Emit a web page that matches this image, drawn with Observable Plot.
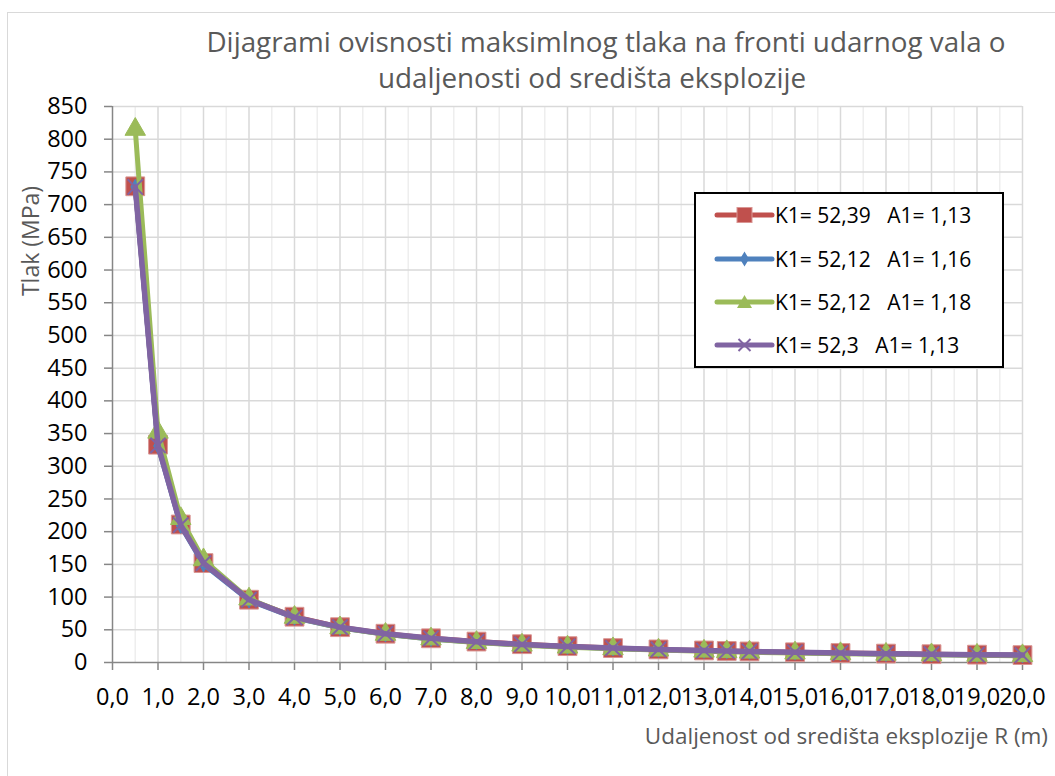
<!DOCTYPE html>
<html>
<head>
<meta charset="utf-8">
<script src="https://cdn.jsdelivr.net/npm/d3@7"></script>
<script src="https://cdn.jsdelivr.net/npm/@observablehq/plot@0.6"></script>
<style>
  html, body { margin: 0; padding: 0; background: #fff; overflow: hidden; }
  #wrap { position: relative; width: 1055px; height: 776px; overflow: hidden; font-family: "Open Sans", sans-serif; }
  #frame { position: absolute; left: 7px; top: 12px; width: 1200px; height: 900px; border: 1.5px solid #d9d9d9; box-sizing: border-box; }
  #chart { position: absolute; left: 0; top: 0; }
  .title { position: absolute; color: #595959; font-size: 27.8px; white-space: nowrap; text-align: center; transform: translateX(-50%); }
  #ylab { position: absolute; color: #595959; font-size: 23px; white-space: nowrap; left: 30px; top: 241px; transform: translate(-50%, -50%) rotate(-90deg); }
  #xlab { position: absolute; color: #595959; font-size: 22.5px; white-space: nowrap; right: 7px; top: 735px; transform: translateY(-50%); }
  #legend { position: absolute; left: 694px; top: 192px; width: 310px; height: 176px; border: 2px solid #000; background: #fff; box-sizing: border-box; }
  .lrow { position: absolute; left: 0; height: 30px; display: flex; align-items: center; }
  .lrow span { font-size: 21px; color: #000; white-space: pre; margin-left: 0px; }
</style>
</head>
<body>
<div id="wrap">
  <div id="frame"></div>
  <div id="chart"></div>
  <div class="title" style="left:606px; top:22px;">Dijagrami ovisnosti maksimlnog tlaka na fronti udarnog vala o</div>
  <div class="title" style="left:592px; top:58px;">udaljenosti od središta eksplozije</div>
  <div id="ylab">Tlak (MPa)</div>
  <div id="xlab">Udaljenost od središta eksplozije R (m)</div>
  <div id="legend"></div>
</div>
<script>
// Distances R (m)
const distances = [0.5, 1, 1.5, 2, 3, 4, 5, 6, 7, 8, 9, 10, 11, 12, 13, 13.5, 14, 15, 16, 17, 18, 19, 20];
// Series values (MPa)
const seriesRed    = [728, 333, 211, 152, 96, 70, 54, 44, 37, 32, 28, 25, 22, 20, 18.4, 17.6, 16.9, 15.6, 14.5, 13.6, 12.7, 12.0, 11.3];
const seriesBlue   = [727, 331, 209, 150, 95, 68.5, 53, 43, 36, 31, 27, 24, 21.5, 19.5, 17.8, 17.1, 16.4, 15.1, 14.0, 13.1, 12.3, 11.6, 10.9];
const seriesGreen  = [815, 352, 220, 157, 97, 69, 53, 43, 36, 30.5, 26.5, 23.5, 21, 19, 17.3, 16.5, 15.8, 14.5, 13.5, 12.6, 11.8, 11.1, 10.4];
const seriesPurple = [727, 332, 210, 152, 96, 69, 54, 44, 37, 31.7, 27.7, 24.6, 22.1, 20.0, 18.3, 17.6, 16.9, 15.6, 14.5, 13.5, 12.7, 12.0, 11.3];
const seriesNames = ["K1= 52,39   A1= 1,13", "K1= 52,12   A1= 1,16", "K1= 52,12   A1= 1,18", "K1= 52,3   A1= 1,13"];
const seriesColors = ["#C0504D", "#4F81BD", "#9BBB59", "#8064A2"];
const seriesSymbols = ["square", "diamond", "triangle", "times"];
const yTicks = d3.range(0, 851, 50);
const xTicks = d3.range(0, 21, 1);

const allSeries = [seriesRed, seriesBlue, seriesGreen, seriesPurple];
const tables = allSeries.map((vals, i) => distances.map((r, j) => ({R: r, p: vals[j], s: seriesNames[i]})));

const markerOpts = [
  {r: 10.6, fill: seriesColors[0], stroke: "#D99694", strokeWidth: 1},
  {r: 4.6, fill: seriesColors[1], stroke: seriesColors[1], strokeWidth: 1},
  {r: 7.6, fill: seriesColors[2], stroke: seriesColors[2], strokeWidth: 1},
  {r: 7, fill: "none", stroke: seriesColors[3], strokeWidth: 2}
];

const seriesMarks = [];
tables.forEach((t, i) => {
  seriesMarks.push(Plot.line(t, {x: "R", y: "p", stroke: seriesColors[i], strokeWidth: i === 3 ? 5.5 : 5, strokeLinejoin: "round", strokeLinecap: "round"}));
  seriesMarks.push(Plot.dot(t, {x: "R", y: "p", symbol: () => seriesSymbols[i], ...markerOpts[i]}));
});

const fmt = d => d.toFixed(1).replace(".", ",");

const chart = Plot.plot({
  width: 1055,
  height: 776,
  marginLeft: 112,
  marginRight: 33,
  marginTop: 106,
  marginBottom: 114,
  style: {fontFamily: "Open Sans, sans-serif", background: "transparent", overflow: "visible"},
  x: {domain: [0, 20]},
  y: {domain: [0, 850]},
  marks: [
    Plot.gridX(d3.range(0.5, 20, 1), {stroke: "#eeeeee", strokeOpacity: 1, strokeWidth: 1.5}),
    Plot.gridX(d3.range(1, 21, 1), {stroke: "#d9d9d9", strokeOpacity: 1, strokeWidth: 1.5}),
    Plot.gridY(d3.range(50, 851, 50), {stroke: "#d9d9d9", strokeOpacity: 1, strokeWidth: 1.5}),
    Plot.axisY(yTicks, {tickSize: 8, tickPadding: 17, fontSize: 23.5, fill: "#000", stroke: "#868686", strokeWidth: 1.5, label: null}),
    Plot.axisX(xTicks, {tickSize: 8, tickPadding: 18, fontSize: 23.5, fill: "#000", stroke: "#868686", strokeWidth: 1.5, tickFormat: fmt, label: null}),
    Plot.ruleX([0], {stroke: "#868686", strokeWidth: 1.5}),
    Plot.ruleY([0], {stroke: "#868686", strokeWidth: 1.5}),
    ...seriesMarks
  ]
});
document.getElementById("chart").appendChild(chart);

// Legend
const legend = document.getElementById("legend");
const rowTops = [23, 67, 110, 153];
const symPaths = {
  square: '<rect x="-7.5" y="-7.5" width="15" height="15" fill="#C0504D" stroke="#D99694" stroke-width="1"/>',
  diamond: '<path d="M0,-7.5L4.5,0L0,7.5L-4.5,0Z" fill="#4F81BD"/>',
  triangle: '<path d="M0,-7L7.5,6L-7.5,6Z" fill="#9BBB59"/>',
  times: '<path d="M-6,-6L6,6M6,-6L-6,6" stroke="#8064A2" stroke-width="2" fill="none"/>'
};
seriesNames.forEach((name, i) => {
  const row = document.createElement("div");
  row.className = "lrow";
  row.style.top = (rowTops[i] - 2 - 15) + "px";
  row.innerHTML = `<svg width="79" height="30" style="display:block"><line x1="21" y1="15" x2="76" y2="15" stroke="${seriesColors[i]}" stroke-width="5" stroke-linecap="round"/><g transform="translate(48.5,15)">${symPaths[seriesSymbols[i]]}</g></svg><span>${name}</span>`;
  legend.appendChild(row);
});
</script>
</body>
</html>
